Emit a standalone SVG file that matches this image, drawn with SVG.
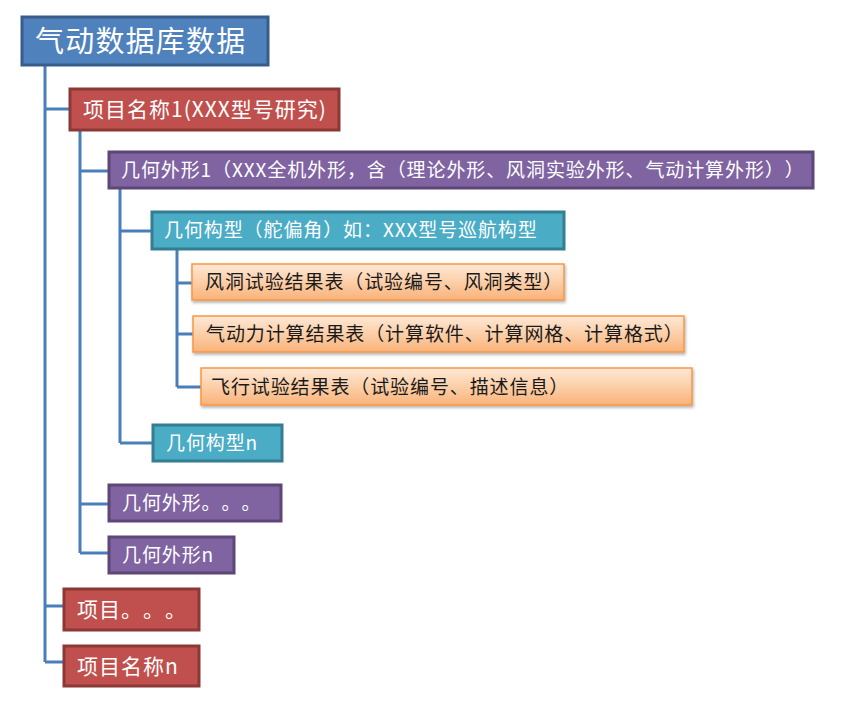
<svg xmlns="http://www.w3.org/2000/svg" width="842" height="704" viewBox="0 0 842 704">
<defs>
<linearGradient id="og" x1="0" y1="0" x2="0" y2="1">
<stop offset="0" stop-color="#FEE8D6"/>
<stop offset="0.5" stop-color="#FCCFA8"/>
<stop offset="1" stop-color="#F9B27A"/>
</linearGradient>
<filter id="sh" x="-5%" y="-20%" width="110%" height="150%">
<feDropShadow dx="1" dy="2" stdDeviation="1.5" flood-color="#000" flood-opacity="0.3"/>
</filter>
</defs>
<style>
text{font-family:"Noto Sans CJK SC","Microsoft YaHei",sans-serif;text-spacing-trim:space-all;font-feature-settings:"halt" 0,"palt" 0;letter-spacing:0.9px;}
.root rect{fill:#4F81BD;stroke:#385D8A;stroke-width:3;}
.proj rect{fill:#C0504D;stroke:#8C3836;stroke-width:3;}
.geo rect{fill:#8064A2;stroke:#5C4776;stroke-width:3;}
.cfg rect{fill:#4BACC6;stroke:#357D91;stroke-width:3;}
.res rect{fill:url(#og);stroke:#F79646;stroke-width:1.5;filter:url(#sh);}
.w{fill:#FFFFFF;}
.d{fill:#1a1a1a;}
#connectors path{fill:none;stroke:#4A7EBB;stroke-width:3;}
</style>
<rect width="842" height="704" fill="#FFFFFF"/>
<g id="connectors">
<path d="M45,65 V662 M45,109 H70 M45,606 H64 M45,662 H64"/>
<path d="M80,130 V553 M80,171 H109 M80,504 H109 M80,553 H109"/>
<path d="M120,188 V443 M120,231 H152 M120,443 H153"/>
<path d="M177,249 V387 M177,283 H192 M177,334 H193 M177,387 H201"/>
</g>
<g id="n-root" class="root"><rect x="22" y="17" width="246" height="48"/><text class="w" x="35" y="52" font-size="29" style="letter-spacing:1.2px">气动数据库数据</text></g>
<g id="n-proj1" class="proj"><rect x="70" y="89" width="269" height="41"/><text class="w" x="83" y="117" font-size="21" style="letter-spacing:1px">项目名称1(XXX型号研究)</text></g>
<g id="n-geo1" class="geo"><rect x="109" y="152" width="704" height="36"/><text class="w" x="121" y="177" font-size="19">几何外形1（XXX全机外形，含（理论外形、风洞实验外形、气动计算外形））</text></g>
<g id="n-cfg1" class="cfg"><rect x="152" y="212" width="412" height="37"/><text class="w" x="164" y="237" font-size="19">几何构型（舵偏角）如：XXX型号巡航构型</text></g>
<g id="n-res1" class="res"><rect x="192" y="264" width="372" height="36"/><text class="d" x="205" y="289" font-size="19">风洞试验结果表（试验编号、风洞类型）</text></g>
<g id="n-res2" class="res"><rect x="193" y="316" width="491" height="36"/><text class="d" x="206" y="341" font-size="19">气动力计算结果表（计算软件、计算网格、计算格式）</text></g>
<g id="n-res3" class="res"><rect x="201" y="368" width="491" height="37"/><text class="d" x="211" y="394" font-size="19">飞行试验结果表（试验编号、描述信息）</text></g>
<g id="n-cfgn" class="cfg"><rect x="153" y="425" width="129" height="36"/><text class="w" x="166" y="450" font-size="19">几何构型n</text></g>
<g id="n-geodots" class="geo"><rect x="109" y="485" width="172" height="36"/><text class="w" x="122" y="510" font-size="19">几何外形。。。</text></g>
<g id="n-geon" class="geo"><rect x="109" y="537" width="125" height="36"/><text class="w" x="122" y="562" font-size="19">几何外形n</text></g>
<g id="n-projdots" class="proj"><rect x="64" y="589" width="135" height="41"/><text class="w" x="77" y="617" font-size="21" style="letter-spacing:1px">项目。。。</text></g>
<g id="n-projn" class="proj"><rect x="64" y="646" width="135" height="40"/><text class="w" x="77" y="674" font-size="21" style="letter-spacing:1px">项目名称n</text></g>
</svg>
